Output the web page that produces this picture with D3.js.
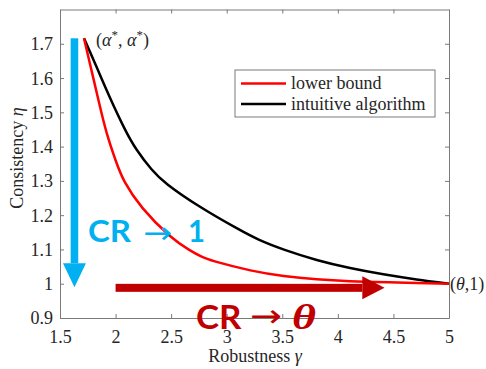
<!DOCTYPE html>
<html><head><meta charset="utf-8">
<script src="https://cdn.jsdelivr.net/npm/d3@7"></script>
<style>body{margin:0;background:#fff}svg{display:block}</style>
</head><body>
<script>
const xTicks = [1.5, 2, 2.5, 3, 3.5, 4, 4.5, 5];
const yTicks = [0.9, 1, 1.1, 1.2, 1.3, 1.4, 1.5, 1.6, 1.7];
const seriesNames = ["lower bound", "intuitive algorithm"];
const lowerGamma = [1.716, 1.785, 1.85, 1.915, 2.01, 2.07, 2.22, 2.50, 2.67, 2.775, 2.85, 3.23, 3.51, 3.81, 4.11, 4.41, 5.0];
const lowerEta   = [1.716, 1.62, 1.53, 1.44, 1.35, 1.30, 1.224, 1.132, 1.097, 1.078, 1.068, 1.036, 1.022, 1.0125, 1.007, 1.0045, 1.0];
const intuGamma  = [1.716, 1.83, 1.946, 2.085, 2.18, 2.328, 2.436, 2.751, 3.12, 3.282, 3.51, 3.81, 4.11, 4.41, 4.71, 5.0];
const intuEta    = [1.716, 1.632, 1.544, 1.448, 1.393, 1.33, 1.295, 1.224, 1.156, 1.128, 1.099, 1.068, 1.045, 1.027, 1.012, 1.0];
const alphaStar = 1.716, theta = 5;

const W = 486, H = 369;
const m = {l: 60, r: 37, t: 9.5, b: 51};
const svg = d3.select("body").append("svg").attr("width", W).attr("height", H);
const x = d3.scaleLinear().domain([1.5, 5]).range([m.l, W - m.r]);
const y = d3.scaleLinear().domain([0.9, 1.8]).range([H - m.b, m.t]);
const axCol = "#7a7a7a", txtCol = "#262626";
const serif = "'Liberation Serif', 'Times New Roman', serif";
const fs = "18px";

// axes box with inward ticks
const gx = svg.append("g").attr("transform", `translate(0,${y(0.9)})`)
  .call(d3.axisBottom(x).tickValues(xTicks).tickSizeInner(-4).tickSizeOuter(0).tickFormat(d3.format("")));
const gxt = svg.append("g").attr("transform", `translate(0,${y(1.8)})`)
  .call(d3.axisTop(x).tickValues(xTicks).tickSizeInner(-4).tickSizeOuter(0).tickFormat(""));
const gy = svg.append("g").attr("transform", `translate(${x(1.5)},0)`)
  .call(d3.axisLeft(y).tickValues(yTicks).tickSizeInner(-4).tickSizeOuter(0).tickFormat(d3.format("")));
const gyr = svg.append("g").attr("transform", `translate(${x(5)},0)`)
  .call(d3.axisRight(y).tickValues(yTicks).tickSizeInner(-4).tickSizeOuter(0).tickFormat(""));
[gx, gxt, gy, gyr].forEach(g => {
  g.selectAll("path,line").attr("stroke", axCol).attr("stroke-width", 1);
  g.selectAll("text").attr("fill", txtCol).style("font-family", serif).style("font-size", fs);
});
gx.selectAll("text").attr("dy", null).attr("y", 25);
gy.selectAll("text").attr("x", -7).attr("dy", "0.33em");

// curves
const line = d3.line().x(d => x(d[0])).y(d => y(d[1])).curve(d3.curveBasis);
const lowerData = lowerGamma.map((g, i) => [g, lowerEta[i]]);
const intuData = intuGamma.map((g, i) => [g, intuEta[i]]);
svg.append("path").datum(intuData).attr("d", line).attr("fill", "none").attr("stroke", "#000").attr("stroke-width", 2.5);
svg.append("path").datum(lowerData).attr("d", line).attr("fill", "none").attr("stroke", "#ff0000").attr("stroke-width", 2.5);

// point labels
const t1 = svg.append("text").attr("x", x(alphaStar) + 12).attr("y", y(alphaStar) + 8)
  .style("font-family", serif).style("font-size", fs).attr("fill", txtCol);
t1.append("tspan").text("(");
t1.append("tspan").style("font-style", "italic").text("α");
t1.append("tspan").attr("dy", -7).style("font-size", "13px").text("*");
t1.append("tspan").attr("dy", 7).text(", ");
t1.append("tspan").style("font-style", "italic").text("α");
t1.append("tspan").attr("dy", -7).style("font-size", "13px").text("*");
t1.append("tspan").attr("dy", 7).text(")");

const t2 = svg.append("text").attr("x", x(theta) + 1).attr("y", y(1) + 6.5)
  .style("font-family", serif).style("font-size", fs).attr("fill", txtCol);
t2.append("tspan").text("(");
t2.append("tspan").style("font-style", "italic").text("θ");
t2.append("tspan").text(",1)");

// blue arrow (down)
const blue = "#00b0f0";
const bx = x(1.63);
svg.append("rect").attr("x", bx - 3.8).attr("y", y(1.716)).attr("width", 7.6).attr("height", y(1.06) - y(1.716)).attr("fill", blue);
svg.append("path").attr("d", `M${bx - 11.5},${y(1.06)} L${bx + 11.5},${y(1.06)} L${bx},${y(0.99)} Z`).attr("fill", blue);
const sans = "Lato, 'Open Sans', sans-serif";
function piece(px, py, txt, len, family, size, weight, style, col) {
  return svg.append("text").attr("x", px).attr("y", py).attr("textLength", len).attr("lengthAdjust", "spacingAndGlyphs")
    .style("font-family", family).style("font-size", size).style("font-weight", weight).style("font-style", style)
    .attr("fill", col).text(txt);
}
piece(88, 241.5, "CR", 43, sans, "31px", "bold", "normal", blue);
piece(143, 242.5, "→", 29, "'DejaVu Sans', sans-serif", "30px", "normal", "normal", blue);
piece(188, 241.5, "1", 17, sans, "31px", "bold", "normal", blue);

// dark red arrow (right)
const dred = "#c00000";
const ry = y(0.988);
svg.append("rect").attr("x", x(2)).attr("y", ry - 4).attr("width", x(4.22) - x(2)).attr("height", 8).attr("fill", dred);
svg.append("path").attr("d", `M${x(4.22)},${ry - 11.5} L${x(4.22)},${ry + 11.5} L${x(4.42)},${ry} Z`).attr("fill", dred);
piece(196, 328.5, "CR", 45.5, sans, "32px", "bold", "normal", dred);
piece(250, 326.5, "→", 32, "'DejaVu Sans', sans-serif", "32px", "normal", "normal", dred);
piece(292, 328.5, "θ", 24, serif, "35px", "bold", "italic", dred);

// axis titles
const xl = svg.append("text").attr("x", 255).attr("y", 362).attr("text-anchor", "middle")
  .style("font-family", serif).style("font-size", fs).attr("fill", txtCol);
xl.append("tspan").text("Robustness ");
xl.append("tspan").style("font-style", "italic").text("γ");
const yl = svg.append("text").attr("transform", `translate(23,${158}) rotate(-90)`).attr("text-anchor", "middle")
  .style("font-family", serif).style("font-size", fs).attr("fill", txtCol);
yl.append("tspan").text("Consistency ");
yl.append("tspan").style("font-style", "italic").text("η");

// legend
const lg = svg.append("g");
lg.append("rect").attr("x", 235).attr("y", 70).attr("width", 200).attr("height", 47)
  .attr("fill", "#fff").attr("stroke", axCol).attr("stroke-width", 1);
const legCols = ["#ff0000", "#000"];
seriesNames.forEach((n, i) => {
  const yy = 83.5 + i * 20.5;
  lg.append("line").attr("x1", 241).attr("x2", 286).attr("y1", yy).attr("y2", yy).attr("stroke", legCols[i]).attr("stroke-width", 2.5);
  lg.append("text").attr("x", 291).attr("y", yy + 5.5).text(n)
    .style("font-family", serif).style("font-size", fs).attr("fill", txtCol);
});
</script>
</body></html>
